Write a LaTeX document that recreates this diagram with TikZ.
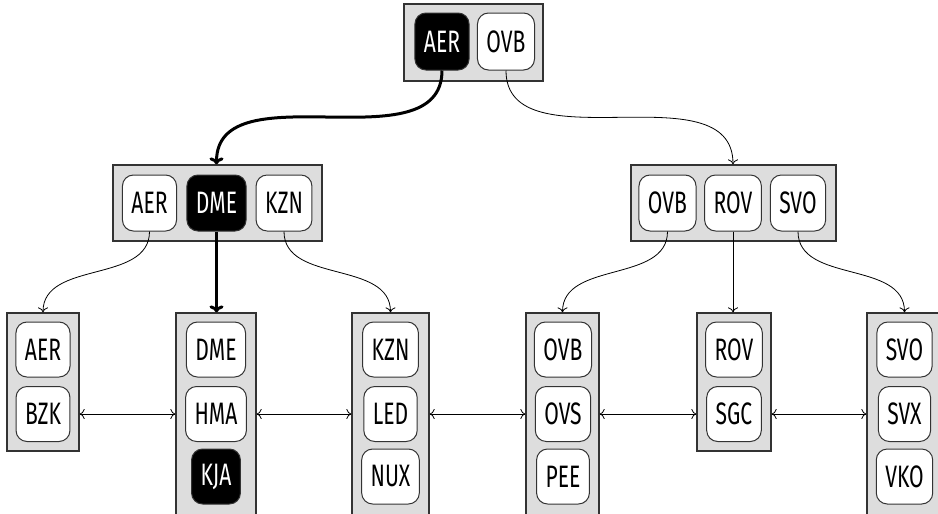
\documentclass[tikz,border=0pt]{standalone}
\usepackage{fontspec}
\setmainfont{Fira Sans}[FakeStretch=0.68]
\usetikzlibrary{arrows.meta}
\definecolor{panelgray}{HTML}{DDDDDD}
\definecolor{edgegray}{HTML}{333333}
\tikzset{
  panel/.style={draw=edgegray, line width=1.3pt, fill=panelgray, inner sep=0pt},
  key/.style={draw=edgegray, line width=1pt, fill=white, rounded corners=11pt,
    minimum height=56pt, inner xsep=9pt, font=\fontsize{31}{34}\selectfont, text=black},
  sel/.style={key, fill=black, text=white},
  link/.style={-{To[length=5pt,width=10pt]}, line width=0.8pt, black},
  boldlink/.style={-{To[length=7pt,width=14pt]}, line width=3pt, black},
  sib/.style={{To[length=5pt,width=10pt]}-{To[length=5pt,width=10pt]}, line width=0.8pt, black}
}
\begin{document}
\begin{tikzpicture}[x=1pt,y=-1pt]
\useasboundingbox (0,0) rectangle (938,514);
% panels
\node[panel, minimum width=139pt, minimum height=77pt] (tp) at (473.5,42.5) {};
\node[panel, minimum width=209pt, minimum height=76pt] (lp) at (217.5,203) {};
\node[panel, minimum width=205pt, minimum height=76pt] (rp) at (733.5,203) {};
\node[panel, minimum width=72pt, minimum height=138pt] (p1) at (43,382) {};
\node[panel, minimum width=80pt, minimum height=210pt] (p2) at (216,418) {};
\node[panel, minimum width=77pt, minimum height=210pt] (p3) at (390.5,418) {};
\node[panel, minimum width=73pt, minimum height=210pt] (p4) at (562.5,418) {};
\node[panel, minimum width=74pt, minimum height=138pt] (p5) at (734,382) {};
\node[panel, minimum width=75pt, minimum height=210pt] (p6) at (904.5,418) {};
% top
\node[sel, minimum height=57pt] (taer) at (442,41.5) {AER};
\node[key, minimum height=57pt] (tovb) at (506,41.5) {OVB};
% level 2
\node[key] (laer) at (149.5,203) {AER};
\node[sel] (ldme) at (216.5,203) {DME};
\node[key] (lkzn) at (284,203) {KZN};
\node[key] (rovb) at (667.5,203) {OVB};
\node[key] (rrov) at (733,203) {ROV};
\node[key] (rsvo) at (798,203) {SVO};
% level 3
\node[key, minimum height=55pt] (aer) at (43,349.5) {AER};
\node[key, minimum height=55pt] (bzk) at (43,414) {BZK};
\node[key, minimum height=55pt] (dme) at (216,349.5) {DME};
\node[key, minimum height=55pt] (hma) at (216,414) {HMA};
\node[sel, minimum height=55pt] (kja) at (216,476.5) {KJA};
\node[key, minimum height=55pt] (kzn) at (390.5,349.5) {KZN};
\node[key, minimum height=55pt] (led) at (390.5,414) {LED};
\node[key, minimum height=55pt] (nux) at (390.5,476.5) {NUX};
\node[key, minimum height=55pt] (ovb) at (563,349.5) {OVB};
\node[key, minimum height=55pt] (ovs) at (563,414) {OVS};
\node[key, minimum height=55pt] (pee) at (563,476.5) {PEE};
\node[key, minimum height=55pt] (rov) at (734,349.5) {ROV};
\node[key, minimum height=55pt] (sgc) at (734,414) {SGC};
\node[key, minimum height=55pt] (svo) at (904.5,349.5) {SVO};
\node[key, minimum height=55pt] (svx) at (904.5,414) {SVX};
\node[key, minimum height=55pt] (vko) at (904.5,476.5) {VKO};
% links
\draw[boldlink] (taer.south) to[out=-90,in=90] (lp.north -| ldme.center);
\draw[link] (tovb.south) to[out=-90,in=90] (rp.north -| rrov.center);
\draw[link] (laer.south) to[out=-90,in=90] (p1.north);
\draw[boldlink] (ldme.south) -- (p2.north -| ldme.south);
\draw[link] (lkzn.south) to[out=-90,in=90] (p3.north);
\draw[link] (rovb.south) to[out=-90,in=90] (p4.north);
\draw[link] (rrov.south) -- (p5.north -| rrov.south);
\draw[link] (rsvo.south) to[out=-90,in=90] (p6.north);
% siblings
\draw[sib] (p1.east |- bzk.center) -- (p2.west |- bzk.center);
\draw[sib] (p2.east |- bzk.center) -- (p3.west |- bzk.center);
\draw[sib] (p3.east |- bzk.center) -- (p4.west |- bzk.center);
\draw[sib] (p4.east |- bzk.center) -- (p5.west |- bzk.center);
\draw[sib] (p5.east |- bzk.center) -- (p6.west |- bzk.center);
\end{tikzpicture}
\end{document}
